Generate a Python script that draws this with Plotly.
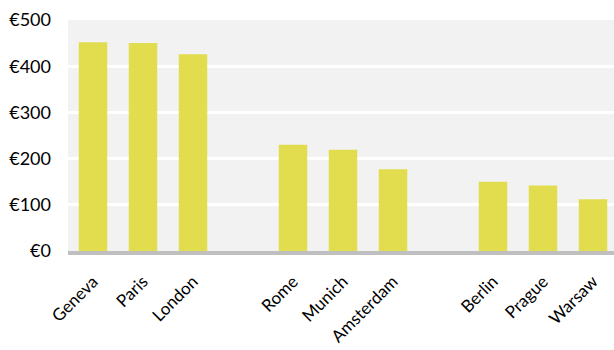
import plotly.graph_objects as go

cities = ["Geneva", "Paris", "London", " ", "Rome", "Munich", "Amsterdam", "  ", "Berlin", "Prague", "Warsaw"]
prices = [452, 450, 426, None, 230, 219, 177, None, 150, 142, 112]
y_ticks = [0, 100, 200, 300, 400, 500]
y_tick_labels = ["€0", "€100", "€200", "€300", "€400", "€500"]

fig = go.Figure(go.Bar(x=cities, y=prices, marker=dict(color="#e2dc4f", line=dict(width=0))))

fig.update_layout(
    width=614, height=350,
    margin=dict(l=68, r=0, t=20, b=99),
    plot_bgcolor="#f2f2f2", paper_bgcolor="white",
    bargap=0.43,
    showlegend=False,
    font=dict(family="Lato", size=18, color="#000000"),
)
fig.update_xaxes(
    type="category", categoryorder="array", categoryarray=cities,
    range=[-0.5, 10.42], tickangle=-45, showline=True, linecolor="#bfbfbf", linewidth=4,
    showgrid=False, zeroline=False, tickfont=dict(size=17), ticks="outside", ticklen=10,
    tickcolor="rgba(0,0,0,0)", automargin=False,
)
fig.update_yaxes(
    range=[0, 500], tickvals=y_ticks, ticktext=y_tick_labels, gridcolor="white", gridwidth=3,
    zeroline=False, showline=False, ticklabelstandoff=16, automargin=False,
)

fig.write_html("out.html")
